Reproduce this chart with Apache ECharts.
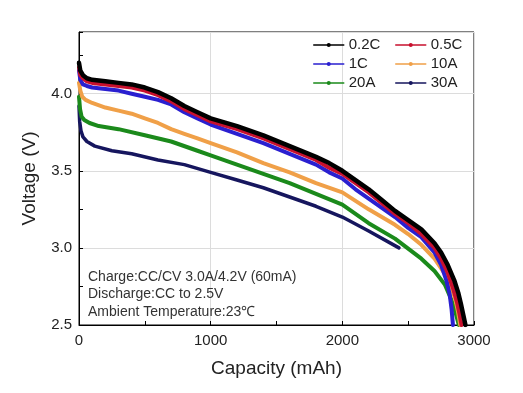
<!DOCTYPE html>
<html>
<head>
<meta charset="utf-8">
<script src="https://cdn.jsdelivr.net/npm/echarts@6/dist/echarts.min.js"></script>
<style>
html,body{margin:0;padding:0;background:#fff;}
#chart{width:523px;height:393px;}
</style>
</head>
<body>
<div id="chart"></div>
<script>
// ---- Data ----
const seriesNames = ['0.2C', '0.5C', '1C', '10A', '20A', '30A'];

const cap02C = [0, 10, 30, 60, 100, 200, 300, 400, 500, 600, 700, 800, 900, 1000, 1200, 1400, 1600, 1800, 1900, 2000, 2100, 2200, 2300, 2400, 2500, 2600, 2700, 2750, 2800, 2850, 2880, 2900, 2920, 2935];
const volt02C = [4.20, 4.15, 4.12, 4.10, 4.09, 4.08, 4.07, 4.06, 4.04, 4.01, 3.97, 3.92, 3.88, 3.84, 3.79, 3.73, 3.66, 3.59, 3.55, 3.50, 3.44, 3.38, 3.31, 3.24, 3.18, 3.12, 3.03, 2.97, 2.89, 2.79, 2.71, 2.64, 2.56, 2.50];

const cap05C = [0, 10, 30, 60, 100, 200, 300, 400, 500, 600, 700, 800, 900, 1000, 1200, 1400, 1600, 1800, 1900, 2000, 2100, 2200, 2300, 2400, 2500, 2600, 2700, 2750, 2800, 2840, 2870, 2890, 2905];
const volt05C = [4.17, 4.12, 4.10, 4.08, 4.07, 4.06, 4.05, 4.04, 4.02, 3.99, 3.95, 3.90, 3.86, 3.82, 3.77, 3.71, 3.64, 3.57, 3.52, 3.48, 3.42, 3.36, 3.29, 3.22, 3.16, 3.09, 3.00, 2.93, 2.84, 2.74, 2.65, 2.57, 2.50];

const cap1C = [0, 10, 30, 60, 100, 200, 300, 400, 500, 600, 700, 800, 900, 1000, 1200, 1400, 1600, 1800, 1900, 2000, 2100, 2200, 2300, 2400, 2500, 2600, 2700, 2750, 2790, 2815, 2830, 2840];
const volt1C = [4.15, 4.09, 4.06, 4.05, 4.04, 4.03, 4.02, 4.00, 3.98, 3.96, 3.93, 3.88, 3.84, 3.80, 3.74, 3.68, 3.61, 3.54, 3.49, 3.45, 3.38, 3.32, 3.26, 3.20, 3.13, 3.07, 2.97, 2.89, 2.79, 2.70, 2.60, 2.50];

const cap10A = [0, 10, 25, 50, 100, 200, 300, 400, 500, 600, 700, 800, 900, 1000, 1200, 1400, 1600, 1800, 2000, 2200, 2400, 2500, 2600, 2700, 2780, 2830, 2860, 2880, 2895];
const volt10A = [4.07, 4.02, 3.98, 3.96, 3.94, 3.91, 3.89, 3.87, 3.84, 3.81, 3.77, 3.74, 3.71, 3.68, 3.62, 3.55, 3.49, 3.42, 3.36, 3.25, 3.15, 3.09, 3.02, 2.93, 2.83, 2.74, 2.66, 2.58, 2.50];

const cap20A = [0, 8, 20, 40, 80, 150, 300, 500, 700, 900, 1000, 1200, 1400, 1600, 1800, 2000, 2200, 2400, 2600, 2700, 2780, 2830, 2860, 2885];
const volt20A = [3.98, 3.90, 3.85, 3.83, 3.81, 3.79, 3.77, 3.73, 3.69, 3.63, 3.60, 3.54, 3.48, 3.42, 3.35, 3.28, 3.16, 3.06, 2.93, 2.85, 2.76, 2.66, 2.58, 2.50];

const cap30A = [0, 5, 15, 30, 60, 120, 250, 400, 600, 800, 1000, 1200, 1400, 1600, 1800, 2000, 2200, 2430];
const volt30A = [3.92, 3.82, 3.76, 3.72, 3.69, 3.66, 3.63, 3.61, 3.57, 3.54, 3.49, 3.44, 3.39, 3.33, 3.27, 3.20, 3.11, 3.00];

const xTicks = [0, 1000, 2000, 3000];
const yTicks = [2.5, 3.0, 3.5, 4.0];

const annotationLines = [
  'Charge:CC/CV 3.0A/4.2V (60mA)',
  'Discharge:CC to 2.5V',
  'Ambient Temperature:23\u2103'
];

// ---- Build ----
const FONT = '"Liberation Sans", Arial, sans-serif';
const pairs = (xs, ys) => xs.map((x, i) => [x, ys[i]]);
const seriesData = {
  '0.2C': pairs(cap02C, volt02C),
  '0.5C': pairs(cap05C, volt05C),
  '1C': pairs(cap1C, volt1C),
  '10A': pairs(cap10A, volt10A),
  '20A': pairs(cap20A, volt20A),
  '30A': pairs(cap30A, volt30A)
};
const colors = {
  '0.2C': '#000000',
  '0.5C': '#c8102e',
  '1C': '#2a1fd0',
  '10A': '#f0a048',
  '20A': '#1b8a1b',
  '30A': '#16165e'
};
const widths = {'0.2C': 4.5, '0.5C': 4, '1C': 4, '10A': 4, '20A': 4, '30A': 3.5};
const drawOrder = ['30A', '20A', '10A', '1C', '0.5C', '0.2C'];

const chart = echarts.init(document.getElementById('chart'), null, {renderer: 'canvas'});

const legendBase = {
  orient: 'vertical',
  top: 37,
  itemWidth: 30,
  itemHeight: 5,
  itemGap: 3,
  lineStyle: {width: 1.5},
  textStyle: {fontFamily: FONT, fontSize: 15, color: '#222', lineHeight: 16},
  padding: 0
};

chart.setOption({
  animation: false,
  backgroundColor: '#fff',
  textStyle: {fontFamily: FONT},
  grid: {left: 79, right: 49, top: 32, bottom: 68, show: true, borderColor: '#000', borderWidth: 1, backgroundColor: 'transparent'},
  legend: [
    Object.assign({}, legendBase, {left: 313, data: ['0.2C', '1C', '20A']}),
    Object.assign({}, legendBase, {left: 395, data: ['0.5C', '10A', '30A']})
  ],
  xAxis: {
    type: 'value', min: 0, max: 3000, interval: 1000,
    name: 'Capacity (mAh)', nameLocation: 'middle', nameGap: 34,
    nameTextStyle: {fontFamily: FONT, fontSize: 19, color: '#222'},
    axisLine: {show: true, lineStyle: {color: '#000', width: 1}},
    axisTick: {show: true, inside: true, length: 4, lineStyle: {color: '#000'}},
    minorTick: {show: true, splitNumber: 2, length: 4, lineStyle: {color: '#000'}},
    splitLine: {show: true, lineStyle: {color: '#dcdcdc', width: 1}},
    axisLabel: {fontFamily: FONT, fontSize: 15, color: '#222', margin: 8,
      formatter: v => (xTicks.indexOf(v) >= 0 ? String(v) : '')}
  },
  yAxis: {
    type: 'value', min: 2.5, max: 4.4, interval: 0.5,
    name: 'Voltage (V)', nameLocation: 'middle', nameGap: 40,
    nameTextStyle: {fontFamily: FONT, fontSize: 19, color: '#222'},
    axisLine: {show: true, lineStyle: {color: '#000', width: 1}},
    axisTick: {show: true, inside: true, length: 4, lineStyle: {color: '#000'}},
    minorTick: {show: true, splitNumber: 2, length: 4, lineStyle: {color: '#000'}},
    splitLine: {show: true, lineStyle: {color: '#dcdcdc', width: 1}},
    axisLabel: {fontFamily: FONT, fontSize: 15, color: '#222', margin: 7, showMaxLabel: false,
      formatter: v => (yTicks.some(t => Math.abs(t - v) < 1e-6) ? v.toFixed(1) : '')}
  },
  graphic: [{
    type: 'text', left: 88, top: 268, z: 100,
    style: {text: annotationLines.join('\n'), fontFamily: FONT, fontSize: 14, lineHeight: 17.5, fill: '#333'}
  }],
  series: drawOrder.map(n => ({
    name: n,
    type: 'line',
    data: seriesData[n],
    smooth: false,
    symbol: 'circle',
    symbolSize: 4,
    showSymbol: false,
    color: colors[n],
    itemStyle: {color: colors[n]},
    lineStyle: {color: colors[n], width: widths[n], join: 'round', cap: 'round'},
    emphasis: {disabled: true}
  }))
});
</script>
</body>
</html>
